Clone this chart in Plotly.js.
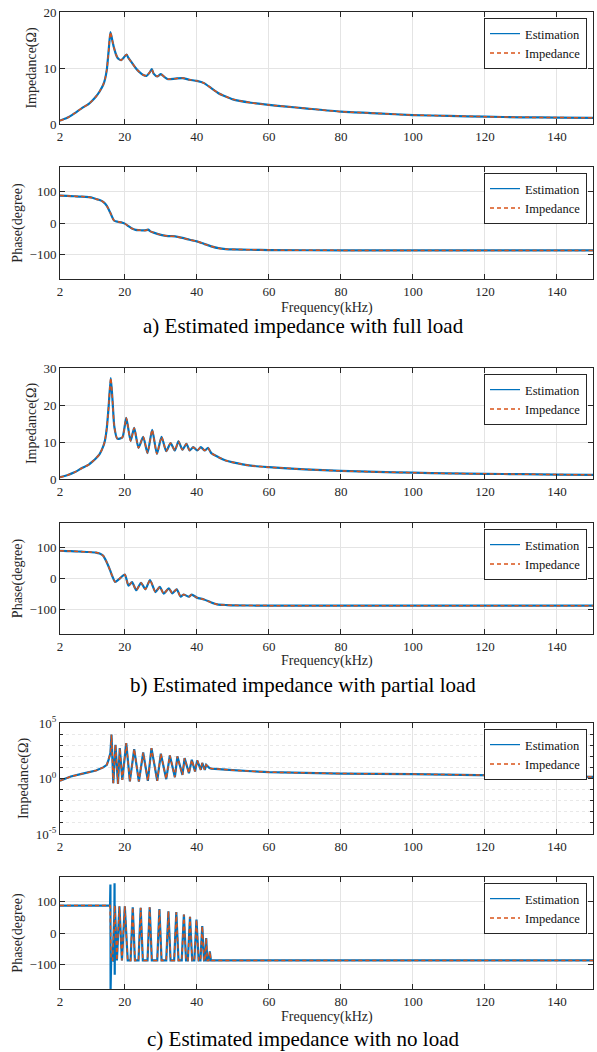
<!DOCTYPE html>
<html><head><meta charset="utf-8">
<script src="https://cdn.plot.ly/plotly-3.0.1.min.js"></script>
<style>html,body{margin:0;padding:0;background:#fff}#chart{width:597px;height:1052px}</style>
</head><body><div id="chart"></div>
<script>
// ---------- data ----------
// a) full load: impedance magnitude (Ω)
const fA  = [2,4,6,8,10,11,12,13,14,14.5,15,15.5,16,16.5,17,17.5,18,19,20,20.5,21,22,23,24,25,26,27,27.5,28,29,30,31,32,34,36,38,40,42,44,46,48,50,55,60,65,70,80,90,100,110,120,130,140,150];
const zA  = [0.6,1.1,1.9,2.8,3.6,4.2,4.9,5.8,7.0,8.0,9.7,13.0,16.4,15.0,13.6,12.5,11.8,11.4,12.1,12.4,11.8,10.9,10.0,9.3,8.8,8.6,9.3,9.8,9.0,8.5,8.9,8.4,8.0,8.1,8.2,7.9,7.7,7.3,6.4,5.5,4.9,4.4,3.8,3.4,3.1,2.8,2.2,1.9,1.6,1.45,1.3,1.2,1.15,1.1];
// a) full load: phase (degree)
const fPA = [2,4,6,8,10,11,12,13,14,15,16,17,18,19,20,21,22,23,24,25,26,26.5,27,28,30,32,34,36,38,40,42,44,46,48,50,55,60,80,100,120,150];
const phA = [88,87,86,85,83,81,77,74,68,55,32,8,4,2,-2,-10,-18,-22,-23,-24,-23,-21,-26,-31,-38,-42,-43,-48,-54,-59,-67,-75,-81,-84,-85,-86,-87,-88,-88,-88,-88];
// b) partial load: impedance magnitude (Ω)
const fB  = [2,4,6,8,10,11,12,13,14,14.5,15,15.5,16.1,16.6,17.1,17.9,19.3,20.4,21.6,22.6,23.8,25.1,26.3,27.6,28.9,30.2,31.5,32.7,33.9,34.9,36,37.1,38,39,40.1,41.1,42.2,43.1,44,46,48,50,55,60,70,80,90,100,110,120,130,140,150];
const zB  = [0.5,1.0,1.8,2.9,3.9,4.7,5.6,6.7,8.8,10.5,13.8,19.5,27.3,21.0,14.0,10.9,11.2,16.5,10.3,13.8,8.4,11.4,7.0,13.3,6.8,11.4,7.5,9.7,7.7,10.2,7.9,9.5,7.7,8.6,7.7,8.6,7.7,8.4,7.0,5.9,5.0,4.5,3.6,3.2,2.6,2.2,1.9,1.7,1.5,1.4,1.3,1.2,1.1];
// b) partial load: phase (degree)
const fPB = [2,4,6,8,10,12,13,14,15,16,16.5,17.3,18.5,20,21,22,23.2,24.5,25.7,27,28.5,29.7,30.8,32.2,33.2,34.4,35.5,36.3,37.8,38.6,40,42,44,45,46,48,50,60,80,100,120,150];
const phB = [90,89,88,87,86,84,81,74,52,24,8,-11,-1,13,-23,-12,-38,-14,-35,-5,-44,-27,-49,-32,-48,-35,-59,-52,-59,-52,-62,-68,-78,-82,-85,-86,-87,-88,-88,-88,-88,-88];
// c) no load: impedance magnitude (Ω, log axis)
const fC  = [2,5,8,10,12,14,15,15.5,16.0,16.3,16.8,17.4,18.1,18.6,19.3,20.4,21.4,22.6,23.9,25.1,26.4,27.4,29,30,31.5,32.5,33.9,34.6,36,36.6,37.8,38.6,39.5,40.1,41.1,41.5,42.2,42.6,43.5,44,50,60,80,100,120,140,150];
const zC  = [0.62,1.5,2.6,3.5,5.2,10,17,50,200,8900,0.38,1100,0.33,550,0.76,1550,0.54,450,0.54,220,0.62,550,0.62,170,0.87,120,1.3,98,2.1,69,3.0,49,4.3,43,6.0,25,6.0,17,8.9,7.9,5.6,3.7,2.8,2.5,2.0,1.6,1.4];
// c) no load: phase (degree) — model
const fPC = [2,15.9,16.2,16.6,17.2,17.8,18.5,19.2,20.0,20.8,21.6,22.2,22.8,23.8,24.4,25.0,26.3,26.9,27.5,29.0,29.6,30.2,31.5,32.1,32.7,33.7,34.3,34.9,35.8,36.4,37.0,37.5,38.1,38.7,39.3,39.9,40.5,41.0,41.5,42.0,42.3,42.6,42.9,43.3,43.6,43.9,45,60,100,150];
const phC = [88,88,-86,-88,88,-88,86,-88,86,-88,-88,83,-88,-88,81,-88,-88,83,-88,-88,77,-88,-88,70,-88,-88,67,-88,-88,59,-88,-88,52,-88,-88,43,-88,-88,22,-88,-88,-16,-88,-88,-59,-88,-88,-88,-88,-88];
// c) no load: phase (degree) — estimation (with spikes near resonance)
const fPCe = [2,15.9,16.0,16.05,16.1,16.2,16.6,17.1,17.15,17.2,17.25,17.8,18.5,19.2,20.0,20.8,21.6,22.2,22.8,23.8,24.4,25.0,26.3,26.9,27.5,29.0,29.6,30.2,31.5,32.1,32.7,33.7,34.3,34.9,35.8,36.4,37.0,37.5,38.1,38.7,39.3,39.9,40.5,41.0,41.5,42.0,42.3,42.6,42.9,43.3,43.6,43.9,45,60,100,150];
const phCe = [88,88,156,-180,40,-86,-88,60,160,-134,88,-88,86,-88,86,-88,-88,83,-88,-88,81,-88,-88,83,-88,-88,77,-88,-88,70,-88,-88,67,-88,-88,59,-88,-88,52,-88,-88,43,-88,-88,22,-88,-88,-16,-88,-88,-59,-88,-88,-88,-88,-88];

const xTicks = [2,20,40,60,80,100,120,140];
const seriesNames = ['Estimation','Impedance'];
const captions = ['a) Estimated impedance with full load','b) Estimated impedance with partial load','c) Estimated impedance with no load'];
const yTitles = ['Impedance(Ω)','Phase(degree)'];

// ---------- layout constants ----------
const W=597, H=1052, X0=60, X1=593;
const FONT = "'Liberation Serif', 'Times New Roman', Times, serif";
const INK = '#262626', GRID = '#e4e4e4';
const BLUE = '#0072BD', ORANGE = '#D95319';
const boxes = [[12,124],[167,279],[368,479],[523,634],[723,834],[877,989]];
const freqLabelY = [308,661,1017];
const captionY = [326,685,1039];

const panels = [
  {fe:fA,  ye:zA,  fm:fA,  ym:zA,  shape:'spline', ytype:'linear', range:[0,20],      tickvals:[0,10,20]},
  {fe:fPA, ye:phA, fm:fPA, ym:phA, shape:'spline', ytype:'linear', range:[-180,180], tickvals:[-100,0,100]},
  {fe:fB,  ye:zB,  fm:fB,  ym:zB,  shape:'spline', ytype:'linear', range:[0,30],      tickvals:[0,10,20,30]},
  {fe:fPB, ye:phB, fm:fPB, ym:phB, shape:'spline', ytype:'linear', range:[-180,180], tickvals:[-100,0,100]},
  {fe:fC,  ye:zC,  fm:fC,  ym:zC,  shape:'linear', ytype:'log',    range:[-5,5],      tickvals:[1e-5,1,1e5], ticktext:['10<sup>-5</sup>','10<sup>0</sup>','10<sup>5</sup>']},
  {fe:fPCe,ye:phCe,fm:fPC, ym:phC, shape:'linear', ytype:'linear', range:[-180,180], tickvals:[-100,0,100]}
];

const traces = [];
const layout = {
  width:W, height:H, margin:{l:0,r:0,t:0,b:0},
  paper_bgcolor:'#fff', plot_bgcolor:'#fff',
  font:{family:FONT, color:INK, size:12},
  showlegend:true, annotations:[]
};

panels.forEach((p,i)=>{
  const n = i+1, sfx = n===1?'':String(n);
  const [top,bot] = boxes[i];
  const leg = 'legend'+sfx;
  // plotted series
  traces.push({x:p.fe, y:p.ye, xaxis:'x'+sfx, yaxis:'y'+sfx, type:'scatter', mode:'lines',
    name:seriesNames[0], showlegend:false, line:{color:BLUE, width:2.2, shape:p.shape, smoothing:0.6}});
  traces.push({x:p.fm, y:p.ym, xaxis:'x'+sfx, yaxis:'y'+sfx, type:'scatter', mode:'lines',
    name:seriesNames[1], showlegend:false, line:{color:ORANGE, width:1.5, dash:'4px,3px', shape:p.shape, smoothing:0.6}});
  // legend keys (thin lines like the reference)
  traces.push({x:[null], y:[null], xaxis:'x'+sfx, yaxis:'y'+sfx, type:'scatter', mode:'lines',
    name:seriesNames[0], legend:leg, line:{color:BLUE, width:1.2}});
  traces.push({x:[null], y:[null], xaxis:'x'+sfx, yaxis:'y'+sfx, type:'scatter', mode:'lines',
    name:seriesNames[1], legend:leg, line:{color:ORANGE, width:1.5, dash:'4px,3px'}});
  layout['xaxis'+sfx] = {
    domain:[X0/W, X1/W], anchor:'y'+sfx, range:[2,150], tickmode:'array', tickvals:xTicks,
    showline:true, linecolor:INK, linewidth:1, mirror:'ticks', ticks:'inside', ticklen:5, tickcolor:INK,
    showgrid:true, gridcolor:GRID, zeroline:false, tickfont:{family:FONT,size:13,color:INK}
  };
  const ya = {
    domain:[1-bot/H, 1-top/H], anchor:'x'+sfx, type:p.ytype, range:p.range, tickmode:'array', tickvals:p.tickvals,
    showline:true, linecolor:INK, linewidth:1, mirror:'ticks', ticks:'inside', ticklen:5, tickcolor:INK,
    showgrid:true, gridcolor:GRID, zeroline:false, tickfont:{family:FONT,size:13,color:INK},
    title:{text:yTitles[i%2], font:{family:FONT,size:14,color:INK}, standoff:3}
  };
  if (p.ticktext) {
    ya.ticktext = p.ticktext;
    ya.minor = {tickmode:'array', tickvals:[1e-4,1e-3,1e-2,1e-1,10,100,1e3,1e4], ticks:'inside', ticklen:3,
                tickcolor:INK, showgrid:true, gridcolor:'#e8e8e8', griddash:'dot'};
  }
  layout['yaxis'+sfx] = ya;
  layout[leg] = {x:587/W, xanchor:'right', y:1-(top+6)/H, yanchor:'top', bgcolor:'#fff',
    bordercolor:INK, borderwidth:1, font:{family:FONT,size:12.5,color:'#111'}, itemwidth:30, tracegroupgap:0};
});

for (let k=0;k<3;k++){
  layout.annotations.push({text:'Frequency(kHz)', xref:'paper', yref:'paper', x:(X0+X1)/2/W, y:1-freqLabelY[k]/H,
    xanchor:'center', yanchor:'middle', showarrow:false, font:{family:FONT,size:14,color:INK}});
  layout.annotations.push({text:captions[k], xref:'paper', yref:'paper', x:303/W, y:1-captionY[k]/H,
    xanchor:'center', yanchor:'middle', showarrow:false, font:{family:FONT,size:21,color:'#000'}});
}

Plotly.newPlot('chart', traces, layout, {staticPlot:true, displayModeBar:false});
</script>
</body></html>
